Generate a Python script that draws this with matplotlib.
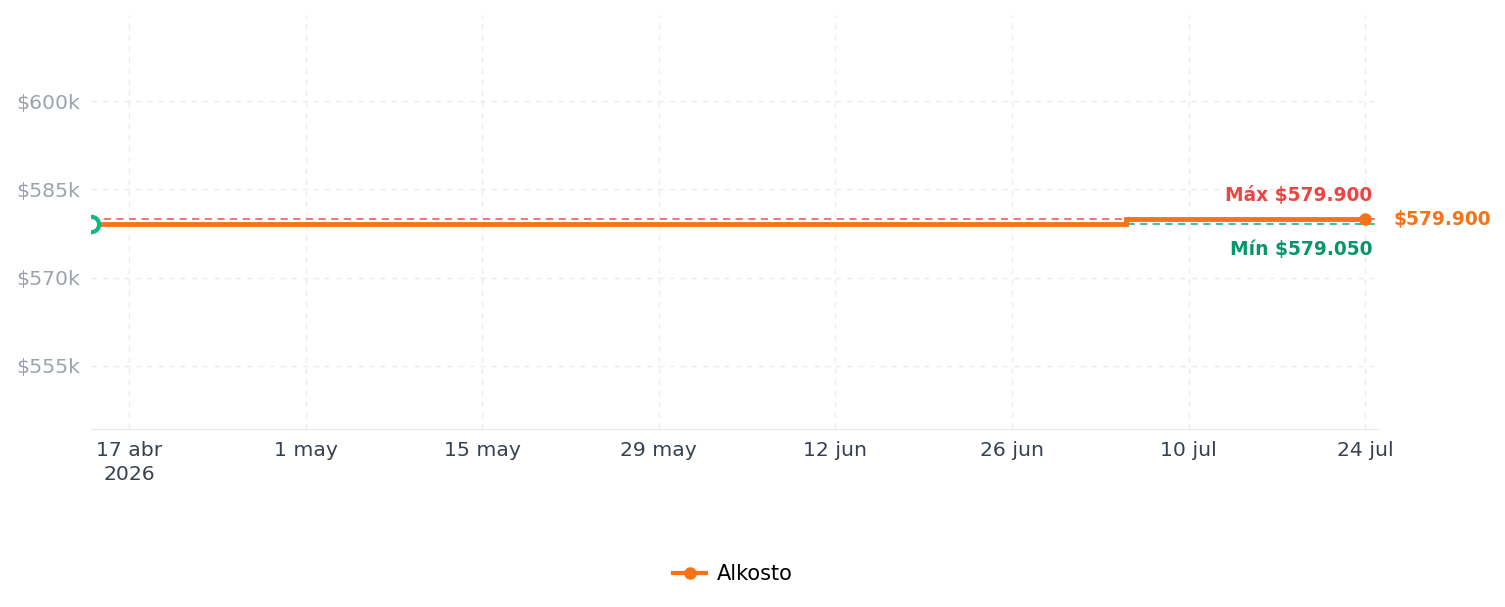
import matplotlib
matplotlib.use("Agg")
import matplotlib.pyplot as plt
import matplotlib.dates as mdates
import numpy as np
from datetime import datetime, timedelta

plt.rcParams['font.family'] = ['DejaVu Sans']

# Data
series_name = "Alkosto"
dates = [datetime(2026, 4, 14), datetime(2026, 7, 5), datetime(2026, 7, 24)]
prices = [579050, 579900, 579900]
max_price = 579900
min_price = 579050
tick_dates = [datetime(2026, 4, 17), datetime(2026, 5, 1), datetime(2026, 5, 15),
              datetime(2026, 5, 29), datetime(2026, 6, 12), datetime(2026, 6, 26),
              datetime(2026, 7, 10), datetime(2026, 7, 24)]
tick_labels = ["17 abr\n2026", "1 may", "15 may", "29 may", "12 jun", "26 jun", "10 jul", "24 jul"]
y_ticks = [555000, 570000, 585000, 600000]
y_labels = ["$555k", "$570k", "$585k", "$600k"]

ORANGE = "#f97316"
RED = "#ef4444"
GREEN = "#059669"
GREEN_M = "#10b981"

fig = plt.figure(figsize=(15.05, 6.07), dpi=100)
ax = fig.add_axes([91/1505, 1-429/607, (1378-91)/1505, (429-15)/607])

x0 = datetime(2026, 4, 14)
x1 = datetime(2026, 7, 25)
ax.set_xlim(x0, x1)
ax.set_ylim(544260, 614660)

ax.axhline(max_price, color=RED, lw=1.3, ls=(0, (4, 3)), alpha=0.8, zorder=2)
ax.axhline(min_price, color=GREEN_M, lw=1.3, ls=(0, (4, 3)), alpha=0.9, zorder=2)

ax.step(dates, prices, where='post', color=ORANGE, lw=3.5, zorder=3, solid_joinstyle='miter')
ax.plot([dates[-1]], [prices[-1]], 'o', color=ORANGE, ms=8, zorder=4)
ax.plot([dates[0]], [prices[0]], 'o', mfc='white', mec=GREEN_M, mew=3, ms=11, zorder=5)

ax.set_xticks(tick_dates)
ax.set_xticklabels(tick_labels, fontsize=14.7, color="#374151", linespacing=1.3)
ax.set_yticks(y_ticks)
ax.set_yticklabels(y_labels, fontsize=14.7, color="#9ca3af")
ax.tick_params(axis='y', length=0, pad=8)
ax.tick_params(axis='x', length=0, pad=9)

ax.grid(True, color="#e5e7eb", ls=(0, (4, 4)), lw=1, alpha=0.8)
for s in ['top', 'right', 'left']:
    ax.spines[s].set_visible(False)
ax.spines['bottom'].set_color("#e5e7eb")

ax.annotate("Máx $579.900", xy=(dates[-1], max_price), xytext=(5, 10.5), textcoords='offset points',
            ha='right', va='bottom', color=RED, fontsize=13.4, fontweight='bold')
ax.annotate("Mín $579.050", xy=(dates[-1], min_price), xytext=(5, -11), textcoords='offset points',
            ha='right', va='top', color=GREEN, fontsize=13.4, fontweight='bold')
ax.annotate("$579.900", xy=(dates[-1], prices[-1]), xytext=(20, 0), textcoords='offset points',
            ha='left', va='center', color=ORANGE, fontsize=13.4, fontweight='bold', annotation_clip=False)

from matplotlib.lines import Line2D
h = Line2D([0], [0], color=ORANGE, lw=3, marker='o', ms=8)
fig.legend([h], [series_name], loc='center', bbox_to_anchor=(0.487, 1-574/607), frameon=False,
           fontsize=15, handlelength=1.6, handletextpad=0.5)

fig.savefig("out.png", dpi=100)
